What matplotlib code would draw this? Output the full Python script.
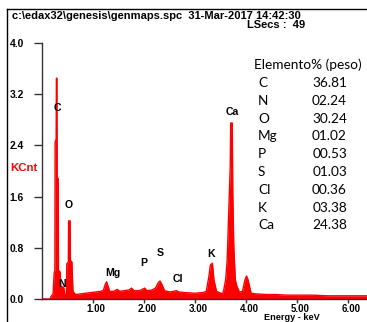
import matplotlib
matplotlib.use("Agg")
import matplotlib.pyplot as plt
import matplotlib.transforms as mtransforms
from matplotlib.lines import Line2D

# spectrum (keV, KCnt)
ENERGY = [0.00, 0.15, 0.17, 0.21, 0.23, 0.245, 0.25, 0.27, 0.275, 0.285, 0.29, 0.31,
          0.315, 0.35, 0.36, 0.42, 0.44, 0.47, 0.48, 0.51, 0.515, 0.545, 0.55, 0.58,
          0.60, 0.65, 0.75, 0.85, 0.95, 1.05, 1.15, 1.20, 1.23, 1.26, 1.29, 1.32,
          1.40, 1.47, 1.52, 1.60, 1.70, 1.75, 1.80, 1.90, 1.96, 2.01, 2.05, 2.15,
          2.22, 2.28, 2.31, 2.34, 2.40, 2.50, 2.58, 2.63, 2.68, 2.80, 3.00, 3.15,
          3.22, 3.27, 3.30, 3.34, 3.37, 3.42, 3.50, 3.55, 3.60, 3.63, 3.66, 3.69,
          3.70, 3.73, 3.74, 3.76, 3.79, 3.82, 3.87, 3.93, 3.98, 4.01, 4.04, 4.10,
          4.20, 4.40, 4.60, 4.80, 5.00, 5.30, 5.60, 5.90, 6.20, 6.38]
KCNT = [0.0, 0.0, 0.04, 0.08, 0.40, 0.45, 2.45, 2.50, 3.45, 3.45, 1.90, 1.88,
        0.45, 0.42, 0.20, 0.18, 0.06, 0.05, 0.55, 0.58, 1.22, 1.22, 0.60, 0.58,
        0.12, 0.07, 0.08, 0.09, 0.10, 0.11, 0.12, 0.14, 0.22, 0.27, 0.20, 0.12,
        0.12, 0.15, 0.12, 0.13, 0.14, 0.17, 0.13, 0.13, 0.15, 0.17, 0.13, 0.14,
        0.17, 0.26, 0.28, 0.24, 0.13, 0.11, 0.12, 0.13, 0.11, 0.10, 0.09, 0.10,
        0.12, 0.35, 0.53, 0.56, 0.30, 0.12, 0.09, 0.09, 0.30, 0.60, 1.34, 2.07,
        2.75, 2.75, 1.65, 0.82, 0.30, 0.20, 0.11, 0.12, 0.30, 0.36, 0.30, 0.09,
        0.08, 0.07, 0.07, 0.06, 0.06, 0.06, 0.05, 0.05, 0.05, 0.05]

PEAK_LABELS = ["C", "O", "N", "Mg", "P", "S", "Cl", "K", "Ca"]
PEAK_X = [0.29, 0.52, 0.385, 1.39, 2.00, 2.31, 2.66, 3.31, 3.74]
PEAK_Y = [2.98, 1.47, 0.23, 0.41, 0.56, 0.72, 0.31, 0.70, 2.92]

ELEMENTS = ["C", "N", "O", "Mg", "P", "S", "Cl", "K", "Ca"]
WEIGHT = ["36.81", "02.24", "30.24", "01.02", "00.53", "01.03", "00.36", "03.38", "24.38"]

Y_TICKS = [0.0, 0.8, 1.6, 2.4, 3.2, 4.0]
X_TICKS = [1.0, 2.0, 3.0, 4.0, 5.0, 6.0]

W, H = 367, 322
BOLD = {"family": "Liberation Sans", "weight": "bold"}

fig = plt.figure(figsize=(W / 100, H / 100), dpi=100)
ax = fig.add_axes([42.4 / W, 1 - 299 / H, 1 - 42.4 / W, (299 - 43) / H])

ax.fill_between(ENERGY, KCNT, 0, color="#ff0000", linewidth=0)
ax.plot(ENERGY, KCNT, color="#ff0000", linewidth=1.0)

ax.set_xlim(0, (W - 42.4) / 50.9)
ax.set_ylim(0, 4.0)
ax.spines["top"].set_visible(False)
ax.spines["right"].set_visible(False)
for s in ["left", "bottom"]:
    ax.spines[s].set_linewidth(1.0)
    ax.spines[s].set_color("#333333")

ax.set_yticks(Y_TICKS)
ax.set_yticklabels(["%.1f" % v for v in Y_TICKS], fontdict=BOLD, fontsize=7.4)
ax.tick_params(axis="y", length=6, width=1, pad=7.5, color="#333333")
ax.set_xticks(X_TICKS)
ax.set_xticklabels(["%.2f" % v for v in X_TICKS], fontdict=BOLD, fontsize=7.0)
ax.tick_params(axis="x", length=3, width=1, pad=0.5, color="#333333")
off = mtransforms.ScaledTranslation(3 / 100, 0, fig.dpi_scale_trans)
for lab in ax.get_xticklabels():
    lab.set_transform(lab.get_transform() + off)

for name, x, y in zip(PEAK_LABELS, PEAK_X, PEAK_Y):
    ax.text(x, y, name, ha="center", va="center", fontsize=7.6, **BOLD)

# header text
fig.text(12 / W, 1 - 16 / H, "c:\\edax32\\genesis\\genmaps.spc  31-Mar-2017 14:42:30",
         ha="left", va="center", fontsize=8.0, **BOLD)
fig.text(247 / W, 1 - 25.5 / H, "LSecs :  49", ha="left", va="center", fontsize=8.0, **BOLD)
fig.text(10 / W, 1 - 168 / H, "KCnt", ha="left", va="center", color="#ff0000",
         fontsize=8.2, **BOLD)
fig.text(292 / W, 1 - 322 / H, "Energy - keV", ha="center", va="bottom",
         fontsize=6.6, **BOLD)

# frame lines
fig.add_artist(Line2D([7 / W, 7 / W], [0, 1 - 8.5 / H], transform=fig.transFigure,
                      color="black", linewidth=1))
fig.add_artist(Line2D([7 / W, 1], [1 - 8.5 / H, 1 - 8.5 / H], transform=fig.transFigure,
                      color="black", linewidth=1))

# composition table
fig.text(254 / W, 1 - 65 / H, "Elemento% (peso)", ha="left", va="center",
         fontsize=9.8, family="Lato")
for i, (el, wt) in enumerate(zip(ELEMENTS, WEIGHT)):
    yy = 1 - (83 + i * 17.8) / H
    fig.text(258 / W, yy, el, ha="left", va="center", fontsize=9.8, family="Lato")
    fig.text(347 / W, yy, wt, ha="right", va="center", fontsize=9.8, family="Lato")

fig.savefig("out.png", dpi=100)
